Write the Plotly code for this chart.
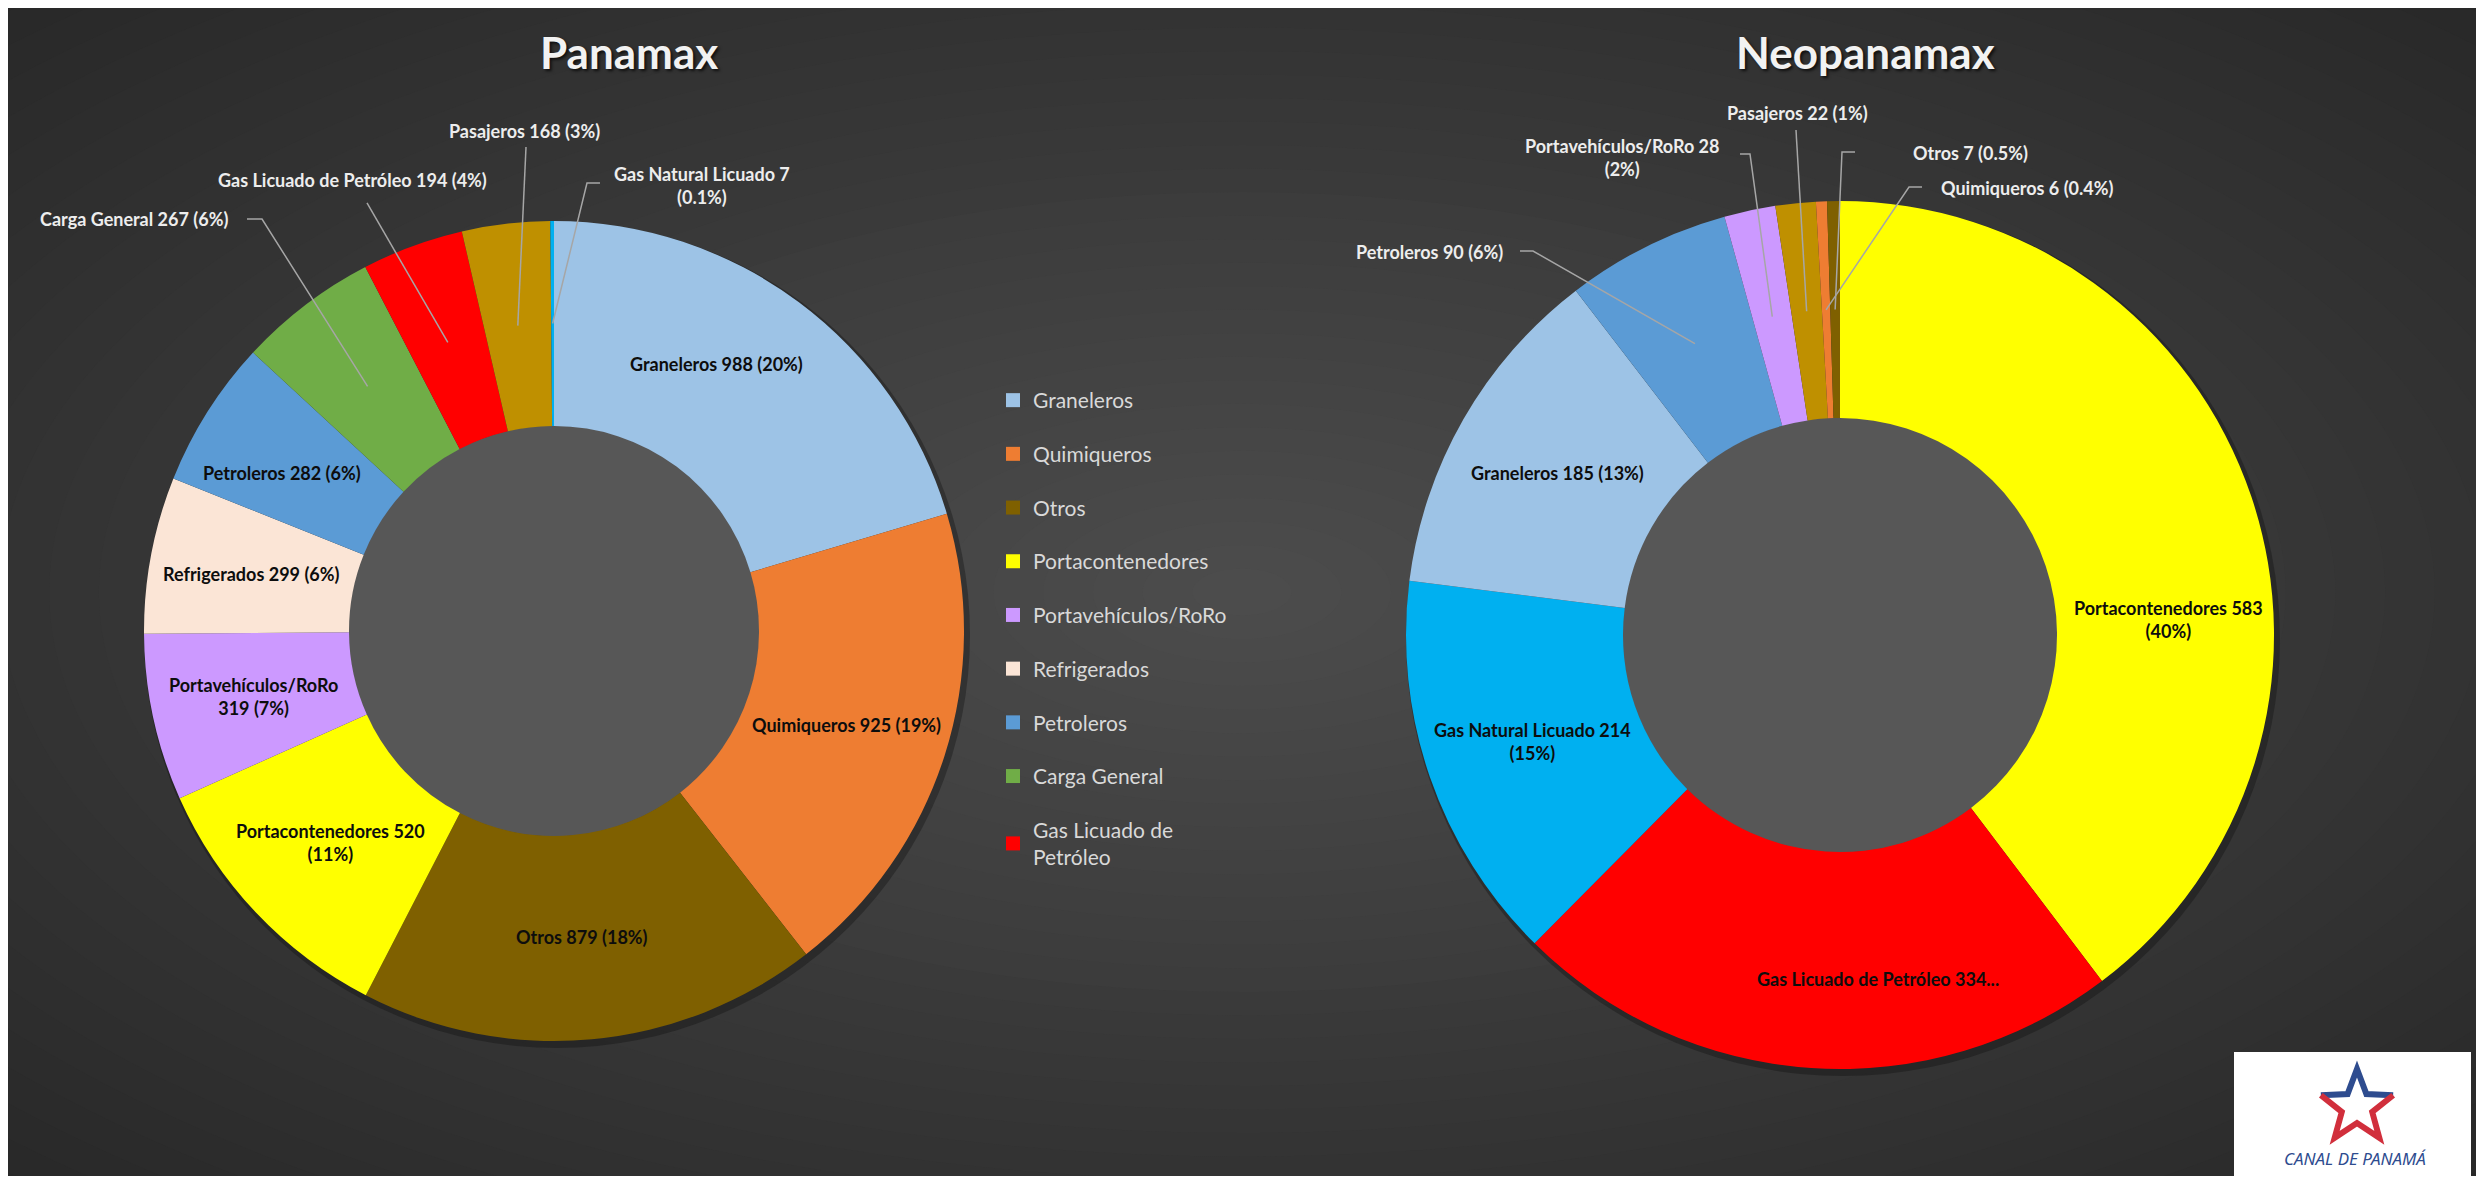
import math
import plotly.graph_objects as go

# ---------------- data ----------------
panamax_labels = ["Graneleros", "Quimiqueros", "Otros", "Portacontenedores",
                  "Portavehículos/RoRo", "Refrigerados", "Petroleros", "Carga General",
                  "Gas Licuado de Petróleo", "Pasajeros", "Gas Natural Licuado"]
panamax_values = [988, 925, 879, 520, 319, 299, 282, 267, 194, 168, 7]
panamax_text = ["Graneleros 988 (20%)", "Quimiqueros 925 (19%)", "Otros 879 (18%)",
                "Portacontenedores 520<br>(11%)", "Portavehículos/RoRo<br>319 (7%)",
                "Refrigerados 299 (6%)", "Petroleros 282 (6%)", "Carga General 267 (6%)",
                "Gas Licuado de Petróleo 194 (4%)", "Pasajeros 168 (3%)",
                "Gas Natural Licuado 7<br>(0.1%)"]

neo_labels = ["Portacontenedores", "Gas Licuado de Petróleo", "Gas Natural Licuado",
              "Graneleros", "Petroleros", "Portavehículos/RoRo", "Pasajeros",
              "Quimiqueros", "Otros"]
neo_values = [583, 334, 214, 185, 90, 28, 22, 6, 7]
neo_text = ["Portacontenedores 583<br>(40%)", "Gas Licuado de Petróleo 334...",
            "Gas Natural Licuado 214<br>(15%)", "Graneleros 185 (13%)", "Petroleros 90 (6%)",
            "Portavehículos/RoRo 28<br>(2%)", "Pasajeros 22 (1%)", "Quimiqueros 6 (0.4%)",
            "Otros 7 (0.5%)"]

legend_labels = ["Graneleros", "Quimiqueros", "Otros", "Portacontenedores",
                 "Portavehículos/RoRo", "Refrigerados", "Petroleros", "Carga General",
                 "Gas Licuado de Petróleo"]
legend_text = ["Graneleros", "Quimiqueros", "Otros", "Portacontenedores",
               "Portavehículos/RoRo", "Refrigerados", "Petroleros", "Carga General",
               "Gas Licuado de<br>Petróleo"]

chart_titles = ["Panamax", "Neopanamax"]
logo_text = "CANAL DE PANAMÁ"

# ---------------- styles ----------------
COLORS = {
    "Graneleros": "#9DC3E6",
    "Quimiqueros": "#EE7D32",
    "Otros": "#7F6000",
    "Portacontenedores": "#FFFF00",
    "Portavehículos/RoRo": "#CC99FF",
    "Refrigerados": "#FBE5D6",
    "Petroleros": "#5B9BD5",
    "Carga General": "#70AD47",
    "Gas Licuado de Petróleo": "#FF0000",
    "Pasajeros": "#BF9000",
    "Gas Natural Licuado": "#00B0F0",
}

OFF = 8           # default body margin of the html page
FW, FH = 2468, 1168
HOLE = 0.5
FONT = "Lato, 'Open Sans', sans-serif"


def px(x):
    return (x - OFF) / FW


def py(y):
    return 1 - (y - OFF) / FH


PAN = dict(cx=554, cy=631, r=410)
NEO = dict(cx=1840, cy=635, r=434)

# outside labels: label position and leader start points (page pixels)
pan_outside = {
    "Carga General": dict(pos=(134, 219), path=[(247, 219), (262, 219)]),
    "Gas Licuado de Petróleo": dict(pos=(352, 180), path=[(367, 203)]),
    "Pasajeros": dict(pos=(524, 131), path=[(526, 147)]),
    "Gas Natural Licuado": dict(pos=(702, 185), path=[(600, 183), (587, 183)]),
}
neo_outside = {
    "Petroleros": dict(pos=(1429, 252), path=[(1520, 251), (1533, 251)]),
    "Portavehículos/RoRo": dict(pos=(1622, 157), path=[(1740, 154), (1750, 154)]),
    "Pasajeros": dict(pos=(1797, 113), path=[(1796, 130)]),
    "Otros": dict(pos=(1970, 153), path=[(1855, 152), (1842, 152)]),
    "Quimiqueros": dict(pos=(2027, 188), path=[(1922, 187), (1909, 187)]),
}
pan_nudge = {"Graneleros": (-21, -20), "Petroleros": (-12, 6)}
neo_nudge = {"Portacontenedores": (20, 88), "Gas Licuado de Petróleo": (60, 19)}

fig = go.Figure()
shapes = []
annotations = []

# ---- background radial gradient ----
N = 36
gcx, gcy = 0.5, 0.5
for k in range(N, 0, -1):
    s = k / N
    g = round(0x4D - (0x4D - 0x28) * s)
    a = 0.725 * s
    shapes.append(dict(type="circle", xref="paper", yref="paper", layer="below",
                       x0=gcx - a, x1=gcx + a, y0=gcy - a, y1=gcy + a,
                       fillcolor=f"rgb({g},{g},{g})", line=dict(width=0)))


def add_donut(labels, values, texts, geo, outside, nudge, name):
    cx, cy, r = geo["cx"], geo["cy"], geo["r"]
    # shadow + hole fill
    shapes.append(dict(type="circle", xref="paper", yref="paper", layer="below",
                       x0=px(cx - r), x1=px(cx + r + 6),
                       y0=py(cy + r + 7), y1=py(cy - r + 1),
                       fillcolor="rgba(15,15,15,0.35)", line=dict(width=0)))
    hr = r * HOLE + 2
    shapes.append(dict(type="circle", xref="paper", yref="paper", layer="below",
                       x0=px(cx - hr), x1=px(cx + hr), y0=py(cy + hr), y1=py(cy - hr),
                       fillcolor="#575757", line=dict(width=3, color="rgba(35,35,35,0.6)")))
    fig.add_trace(go.Pie(
        labels=labels, values=values, name=name, sort=False, direction="clockwise",
        rotation=0, hole=HOLE, textinfo="none", showlegend=False,
        marker=dict(colors=[COLORS[l] for l in labels], line=dict(width=0)),
        domain=dict(x=[px(cx - r), px(cx + r)], y=[py(cy + r), py(cy - r)]),
        hovertemplate="%{label}: %{value} (%{percent})<extra></extra>",
    ))
    total = sum(values)
    cum = 0
    for lab, v, t in zip(labels, values, texts):
        th = 2 * math.pi * (cum + v / 2) / total
        cum += v
        mx = cx + 0.75 * r * math.sin(th)
        my = cy - 0.75 * r * math.cos(th)
        if lab in outside:
            spec = outside[lab]
            pts = spec["path"] + [(mx, my)]
            d = "M " + " L ".join(f"{px(x):.5f},{py(y):.5f}" for x, y in pts)
            shapes.append(dict(type="path", path=d, xref="paper", yref="paper",
                               layer="above", line=dict(color="#A6A6A6", width=1.5)))
            lx, ly = spec["pos"]
            annotations.append(dict(x=px(lx), y=py(ly), xref="paper", yref="paper",
                                    text=t, showarrow=False, xanchor="center",
                                    yanchor="middle",
                                    font=dict(family=FONT, size=18, color="#EDEDED",
                                              weight="bold")))
        else:
            dx, dy = nudge.get(lab, (0, 0))
            annotations.append(dict(x=px(mx + dx), y=py(my + dy), xref="paper",
                                    yref="paper", text=t, showarrow=False,
                                    xanchor="center", yanchor="middle",
                                    font=dict(family=FONT, size=18, color="#0D0D0D",
                                              weight="bold")))


add_donut(panamax_labels, panamax_values, panamax_text, PAN, pan_outside, pan_nudge,
          chart_titles[0])
add_donut(neo_labels, neo_values, neo_text, NEO, neo_outside, neo_nudge, chart_titles[1])

# ---- titles ----
for t, (tx, ty) in zip(chart_titles, [(629, 52), (1865, 52)]):
    annotations.append(dict(x=px(tx), y=py(ty), xref="paper", yref="paper", text=t,
                            showarrow=False, xanchor="center", yanchor="middle",
                            font=dict(family=FONT, size=44, color="#F2F2F2", weight="bold",
                                      shadow="2px 2px 3px rgba(0,0,0,0.7)")))

# ---- legend (dummy traces) ----
for lab, txt in zip(legend_labels, legend_text):
    fig.add_trace(go.Scatter(x=[None], y=[None], mode="markers", name=txt,
                             legendgroup=lab, showlegend=True, hoverinfo="skip",
                             marker=dict(symbol="square", size=14, color=COLORS[lab],
                                         line=dict(width=0))))

# ---- logo ----
shapes.append(dict(type="rect", xref="paper", yref="paper", layer="above",
                   x0=px(2234), x1=px(2471), y0=0, y1=py(1052),
                   fillcolor="#FFFFFF", line=dict(width=0)))
scx, scy, R, Ri = 2357, 1107, 38, 16
pts = []
for i in range(10):
    ang = math.radians(i * 36)
    rr = R if i % 2 == 0 else Ri
    pts.append((scx + rr * math.sin(ang), scy - rr * math.cos(ang)))
blue_idx = [8, 9, 0, 1, 2]
red_idx = [2, 3, 4, 5, 6, 7, 8]
for idx, col in [(blue_idx, "#2E4C8F"), (red_idx, "#D12F3C")]:
    d = "M " + " L ".join(f"{px(pts[i][0]):.5f},{py(pts[i][1]):.5f}" for i in idx)
    shapes.append(dict(type="path", path=d, xref="paper", yref="paper", layer="above",
                       line=dict(color=col, width=6)))
annotations.append(dict(x=px(2355), y=py(1158), xref="paper", yref="paper",
                        text=logo_text, showarrow=False, xanchor="center",
                        yanchor="middle",
                        font=dict(family="'Noto Sans', sans-serif", size=17,
                                  color="#2E4C8F", style="italic")))

fig.update_layout(
    width=FW, height=FH,
    margin=dict(l=0, r=0, t=0, b=0),
    paper_bgcolor="#2A2A2A",
    plot_bgcolor="rgba(0,0,0,0)",
    xaxis=dict(visible=False, range=[0, 1]),
    yaxis=dict(visible=False, range=[0, 1]),
    shapes=shapes,
    annotations=annotations,
    showlegend=True,
    legend=dict(x=px(993), y=py(380), xanchor="left", yanchor="top",
                bgcolor="rgba(0,0,0,0)", borderwidth=0, tracegroupgap=23.4,
                font=dict(family=FONT, size=21, color="#D9D9D9"),
                traceorder="grouped"),
)

fig.write_html("out.html")
